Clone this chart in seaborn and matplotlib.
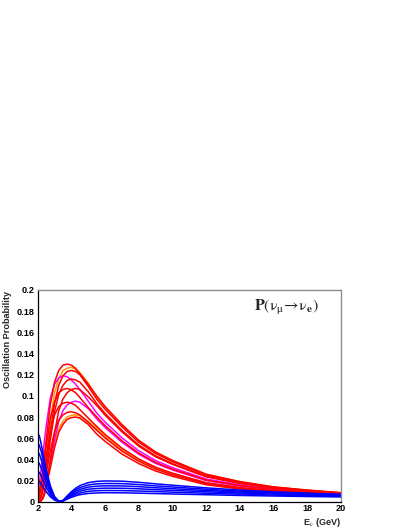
import numpy as np
import pandas as pd
import matplotlib
matplotlib.use("Agg")
import matplotlib.pyplot as plt
import seaborn as sns
from matplotlib.ticker import MultipleLocator, FuncFormatter

# energy grid (GeV)
energy = [2.0, 2.1, 2.2, 2.3, 2.4, 2.5, 2.75, 3.0, 3.25, 3.5, 3.75, 4.0, 4.25,
          4.5, 5.0, 5.5, 6.0, 7.0, 8.0, 9.0, 10.0, 12.0, 14.0, 16.0, 18.0, 20.0]

# appearance probability curves (red / orange / magenta family)
red_1 = [.003, .008, .018, .030, .044, .058, .092, .113, .124, .129, .130, .129, .126,
         .121, .111, .100, .090, .073, .058, .047, .039, .026, .019, .014, .011, .0085]
orange_1 = [.001, .003, .009, .019, .030, .044, .076, .103, .116, .124, .126, .127, .125,
            .122, .112, .099, .089, .072, .0576, .0466, .0387, .0258, .0189, .0139, .0109, .0085]
red_2 = [.001, .002, .006, .013, .023, .035, .066, .093, .110, .119, .123, .124, .123,
         .120, .109, .097, .0874, .0708, .0562, .0456, .0378, .0252, .0184, .0136, .0107, .0083]
magenta_1 = [.008, .018, .030, .044, .058, .071, .098, .111, .117, .119, .118, .115, .111,
             .106, .095, .0838, .0752, .0604, .0481, .0389, .0322, .0215, .0159, .0120, .0096, .0075]
red_3 = [.001, .001, .004, .010, .019, .028, .058, .085, .1015, .110, .1146, .116, .115,
         .113, .104, .0928, .0834, .0674, .0536, .0434, .036, .024, .0176, .0131, .0104, .0081]
red_4 = [.003, .009, .018, .028, .040, .052, .079, .094, .103, .106, .107, .1056, .103,
         .0985, .089, .0802, .0719, .0576, .0459, .0371, .0308, .0205, .0152, .0115, .0092, .0073]
red_5 = [.002, .000, .001, .003, .008, .0155, .040, .065, .086, .097, .103, .106, .107,
         .106, .099, .091, .0818, .066, .0525, .0425, .0353, .0235, .0173, .0129, .0102, .0080]
red_6 = [.002, .006, .013, .022, .032, .042, .067, .082, .090, .093, .094, .093, .091,
         .087, .079, .0712, .0636, .0506, .0404, .0326, .027, .018, .0134, .0104, .0084, .0067]
magenta_2 = [.002, .000, .001, .003, .007, .014, .036, .058, .076, .086, .0915, .094, .095,
             .094, .088, .0784, .0702, .0562, .0448, .0362, .030, .020, .0148, .0113, .0091, .0072]
red_7 = [.001, .002, .005, .011, .018, .026, .048, .066, .077, .082, .0844, .085, .084,
         .082, .075, .0676, .0603, .0478, .0382, .0308, .0255, .017, .0127, .0099, .0081, .0065]
orange_2 = [.001, .000, .0015, .004, .009, .0156, .035, .055, .069, .076, .080, .0816, .082,
            .081, .076, .0694, .062, .0492, .0393, .0317, .0263, .0175, .013, .0101, .0083, .0066]
red_8 = [.001, .000, .001, .003, .0076, .0136, .032, .051, .0656, .073, .0778, .0794, .080,
         .079, .073, .064, .057, .045, .036, .029, .024, .016, .012, .0095, .0078, .0063]

# blue family
blue_1 = [.065, .062, .055, .047, .039, .031, .015, .0049, .0006, .0012, .0055, .0094, .0127,
          .0152, .0180, .0192, .0196, .0194, .0183, .0169, .0156, .0131, .0110, .0094, .0081, .0070]
blue_2 = [.056, .053, .048, .041, .034, .027, .013, .0042, .0005, .0010, .0048, .0083, .0112,
          .0133, .0158, .0169, .0172, .0171, .0162, .0150, .0139, .0118, .0100, .0087, .0076, .0066]
blue_3 = [.047, .045, .040, .034, .028, .0226, .0108, .0035, .0004, .0009, .0042, .0072, .0098,
          .0116, .0138, .0147, .0150, .0149, .0142, .0132, .0123, .0106, .0091, .0080, .0070, .0061]
blue_4 = [.038, .036, .032, .028, .023, .018, .0087, .0028, .0003, .0008, .0036, .0061, .0083,
          .0099, .0118, .0125, .0128, .0127, .0122, .0114, .0107, .0094, .0082, .0072, .0064, .0056]
blue_5 = [.029, .0275, .0247, .0212, .0174, .0139, .0067, .0022, .0003, .0006, .0030, .0051, .0069,
          .0082, .0098, .0104, .0106, .0105, .0101, .0096, .0090, .0080, .0071, .0063, .0057, .0051]
blue_6 = [.020, .019, .017, .0146, .012, .0096, .0046, .0015, .0002, .0005, .0024, .0041, .0055,
          .0066, .0078, .0083, .0085, .0084, .0081, .0077, .0073, .0066, .0059, .0054, .0049, .0045]

curves = [
    ("orange_1", orange_1, "#ff9900"), ("orange_2", orange_2, "#ff9900"),
    ("magenta_1", magenta_1, "#ff00ff"), ("magenta_2", magenta_2, "#ff00ff"),
    ("red_1", red_1, "#ff0000"), ("red_2", red_2, "#ff0000"), ("red_3", red_3, "#ff0000"),
    ("red_4", red_4, "#ff0000"), ("red_5", red_5, "#ff0000"), ("red_6", red_6, "#ff0000"),
    ("red_7", red_7, "#ff0000"), ("red_8", red_8, "#ff0000"),
    ("blue_1", blue_1, "#0000ff"), ("blue_2", blue_2, "#0000ff"), ("blue_3", blue_3, "#0000ff"),
    ("blue_4", blue_4, "#0000ff"), ("blue_5", blue_5, "#0000ff"), ("blue_6", blue_6, "#0000ff"),
]

rows = []
for name, vals, col in curves:
    for e, p in zip(energy, vals):
        rows.append((name, e, p))
df = pd.DataFrame(rows, columns=["curve", "E", "P"])
palette = {name: col for name, _, col in curves}

sns.set_style("white")
plt.rcParams["font.family"] = ["Liberation Sans", "DejaVu Sans"]
plt.rcParams["mathtext.fontset"] = "stix"

fig = plt.figure(figsize=(4.09, 5.29), dpi=100)
ax = fig.add_axes([0.0922, 0.0516, 0.741, 0.4002])

sns.lineplot(data=df, x="E", y="P", hue="curve", hue_order=[c[0] for c in curves],
             palette=palette, legend=False, linewidth=1.1, sort=False, ax=ax)

ax.set_xlim(2, 20)
ax.set_ylim(0, 0.2)
ax.xaxis.set_major_locator(MultipleLocator(2))
ax.xaxis.set_minor_locator(MultipleLocator(0.5))
ax.yaxis.set_major_locator(MultipleLocator(0.02))
ax.yaxis.set_minor_locator(MultipleLocator(0.004))
ax.yaxis.set_major_formatter(FuncFormatter(lambda v, p: "%g" % round(v, 3)))
ax.xaxis.set_major_formatter(FuncFormatter(lambda v, p: "%g" % v))
ax.tick_params(which="both", direction="in", top=False, right=False, colors="black",
               labelsize=6.6, pad=2)
ax.tick_params(which="major", length=4, width=0.8)
ax.tick_params(which="minor", length=2, width=0.8)
for lab in ax.get_xticklabels() + ax.get_yticklabels():
    lab.set_fontweight("bold")

for side in ["left", "bottom"]:
    ax.spines[side].set_color("black")
    ax.spines[side].set_linewidth(0.9)
for side in ["top", "right"]:
    ax.spines[side].set_color("#8c8c8c")
    ax.spines[side].set_linewidth(1.0)

ax.set_xlabel("")
ax.set_ylabel("")
ax.text(1.0, -0.1, r"E$_\nu$ (GeV)", transform=ax.transAxes, ha="right", va="center",
        fontsize=6.6, fontweight="bold")
fig.text(8 / 409, 1 - 291 / 529, "Oscillation Probability", rotation=90, ha="center",
         va="top", fontsize=6.6, fontweight="bold")
ax.text(0.82, 0.915, r"$\mathbf{P}(\mathrm{\nu_{\mu}}\!\rightarrow\!\mathrm{\nu_{\mathbf{e}}})$",
        transform=ax.transAxes, ha="center", va="center", fontsize=11.5)

fig.savefig("out.png", dpi=100, facecolor="white")
